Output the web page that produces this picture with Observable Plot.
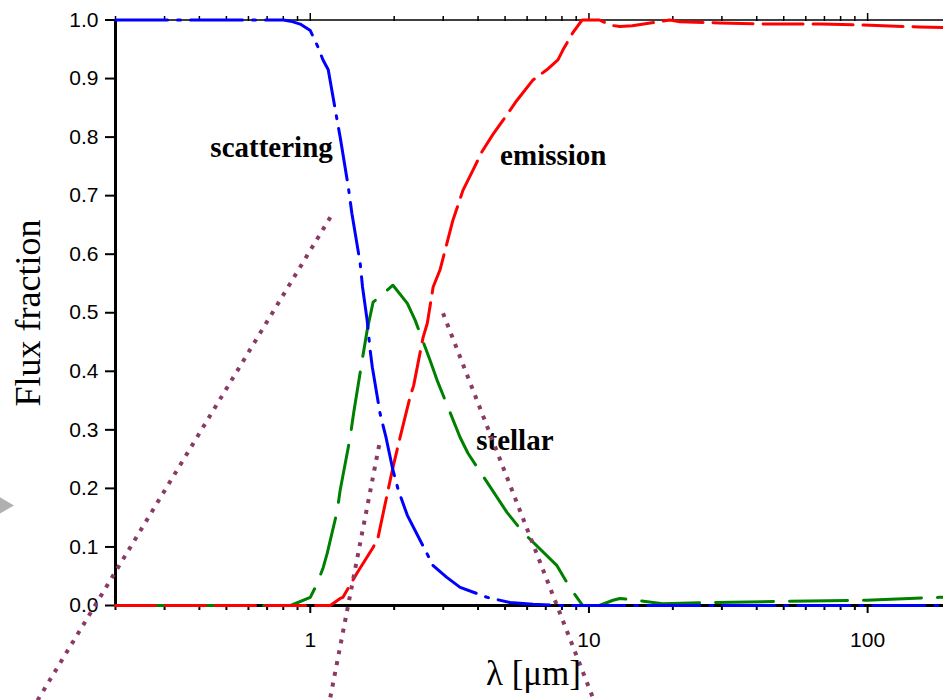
<!DOCTYPE html>
<html>
<head>
<meta charset="utf-8">
<script src="https://cdn.jsdelivr.net/npm/d3@7"></script>
<script src="https://cdn.jsdelivr.net/npm/@observablehq/plot@0.6"></script>
<style>
  html, body { margin: 0; padding: 0; background: white; overflow: hidden; }
</style>
</head>
<body>
<div id="chart"></div>
<script>
// ---- data ----
const scatX = [0.2, 0.5, 0.8, 0.85, 0.92, 1.0, 1.07, 1.11, 1.16, 1.23, 1.28, 1.37, 1.41, 1.51, 1.54, 1.60, 1.64, 1.67, 1.78, 1.87, 1.98, 2.07, 2.23, 2.76, 3.09, 3.45, 4.31, 5.21, 6.3, 7.9, 20, 200];
const scatY = [1, 1, 1, 0.998, 0.993, 0.982, 0.952, 0.932, 0.915, 0.846, 0.80, 0.714, 0.67, 0.585, 0.544, 0.487, 0.436, 0.407, 0.328, 0.287, 0.231, 0.197, 0.154, 0.068, 0.048, 0.031, 0.014, 0.005, 0.002, 0, 0, 0];

const emisX = [0.2, 1.18, 1.28, 1.31, 1.47, 1.68, 1.75, 1.89, 1.98, 2.10, 2.28, 2.35, 2.54, 2.63, 2.76, 2.92, 3.25, 3.53, 3.84, 4.13, 4.53, 4.92, 5.52, 6.28, 7.06, 7.74, 8.07, 8.77, 9.45, 10.9, 12.0, 12.9, 14.3, 19.5, 21.2, 29.4, 44.5, 67.4, 102, 153, 200];
const emisY = [0, 0, 0.012, 0.014, 0.055, 0.099, 0.116, 0.191, 0.236, 0.287, 0.356, 0.376, 0.458, 0.482, 0.544, 0.573, 0.658, 0.709, 0.744, 0.775, 0.805, 0.829, 0.863, 0.897, 0.915, 0.932, 0.949, 0.979, 1.0, 1.0, 0.991, 0.989, 0.99, 1.0, 0.997, 0.995, 0.993, 0.993, 0.991, 0.988, 0.987];

const stelX = [0.2, 0.85, 1.0, 1.06, 1.113, 1.15, 1.25, 1.28, 1.39, 1.43, 1.55, 1.60, 1.68, 1.98, 2.23, 2.38, 2.69, 2.85, 3.45, 3.68, 5.08, 5.8, 7.68, 8.53, 9.5, 10.9, 12.2, 12.9, 14.8, 18.4, 27.7, 51, 99, 181, 200];
const stelY = [0, 0, 0.014, 0.038, 0.065, 0.089, 0.162, 0.197, 0.287, 0.328, 0.431, 0.470, 0.518, 0.547, 0.516, 0.487, 0.419, 0.385, 0.287, 0.260, 0.159, 0.125, 0.068, 0.031, 0, 0, 0.009, 0.012, 0.009, 0.003, 0.005, 0.007, 0.009, 0.014, 0.015];

// dotted guide lines (end points in data units)
const guideId = ["a", "a", "b", "b", "c", "c"];
const guideX  = [0.105, 1.18, 1.18, 1.78, 2.995, 10.36];
const guideY  = [-0.162, 0.663, -0.157, 0.282, 0.499, -0.159];

// annotation labels
const labelText = ["scattering", "emission", "stellar"];
const labelX = [0.438, 4.80, 3.94];
const labelY = [0.766, 0.752, 0.265];

// ticks
const yTicks = [0, 0.1, 0.2, 0.3, 0.4, 0.5, 0.6, 0.7, 0.8, 0.9, 1.0];
const yTickLabels = ["0.0", "0.1", "0.2", "0.3", "0.4", "0.5", "0.6", "0.7", "0.8", "0.9", "1.0"];
const xMajor = [1, 10, 100];
const xMajorLabels = ["1", "10", "100"];
const xMinor = [0.2, 0.3, 0.4, 0.5, 0.6, 0.7, 0.8, 0.9, 2, 3, 4, 5, 6, 7, 8, 9, 20, 30, 40, 50, 60, 70, 80, 90];

const yTitle = "Flux fraction";
const xTitle = "λ [μm]";

// ---- tables ----
const scat = scatX.map((x, i) => ({x, y: scatY[i]}));
const emis = emisX.map((x, i) => ({x, y: emisY[i]}));
const stel = stelX.map((x, i) => ({x, y: stelY[i]}));
const guides = guideX.map((x, i) => ({id: guideId[i], x, y: guideY[i]}));
const labels = labelText.map((t, i) => ({text: t, x: labelX[i], y: labelY[i]}));
const yLab = yTicks.map((v, i) => ({v, t: yTickLabels[i]}));
const xLab = xMajor.map((v, i) => ({v, t: xMajorLabels[i]}));
const arrow = [{x: 0.077, y: 0.171}];

const serif = "'Liberation Serif', 'Times New Roman', serif";
const sans = "'Liberation Sans', Arial, sans-serif";
const purple = "#8b3a66";

const chart = Plot.plot({
  width: 943,
  height: 700,
  marginLeft: 115,
  marginRight: 0,
  marginTop: 20,
  marginBottom: 95,
  style: {fontFamily: sans, fontSize: "21px", background: "white", color: "black", overflow: "visible"},
  x: {type: "log", domain: [0.2, 200], range: [115, 951]},
  y: {domain: [0, 1], range: [605, 19.5]},
  marks: [
    // frame lines
    Plot.ruleY([1], {stroke: "black", strokeWidth: 1.5}),
    Plot.ruleY([0], {stroke: "black", strokeWidth: 3}),
    Plot.ruleX([0.2], {stroke: "black", strokeWidth: 3}),
    // axes (ticks)
    Plot.axisY({ticks: yTicks, tickFormat: () => "", tickSize: 10, strokeWidth: 2, label: null}),
    Plot.axisX({ticks: xMajor, tickFormat: () => "", tickSize: 8, strokeWidth: 2, label: null}),
    Plot.axisX({ticks: xMinor, tickFormat: () => "", tickSize: 5, strokeWidth: 2, label: null}),
    Plot.axisX({anchor: "top", ticks: xMajor, tickFormat: () => "", tickSize: 8, strokeWidth: 1.5, label: null}),
    Plot.axisX({anchor: "top", ticks: xMinor, tickFormat: () => "", tickSize: 5, strokeWidth: 1.5, label: null}),
    // tick labels
    Plot.text(yLab, {y: "v", text: "t", frameAnchor: "left", textAnchor: "end", lineAnchor: "middle", dx: -17, fontFamily: sans, fontSize: 21, fill: "black"}),
    Plot.text(xLab, {x: "v", text: "t", frameAnchor: "bottom", textAnchor: "middle", lineAnchor: "top", dy: 27, fontFamily: sans, fontSize: 21, fill: "black"}),
    // curves
    Plot.line(stel, {x: "x", y: "y", stroke: "#008000", strokeWidth: 3, strokeDasharray: "58,16"}),
    Plot.line(emis, {x: "x", y: "y", stroke: "#ff0000", strokeWidth: 3, strokeDasharray: "40,10"}),
    Plot.line(scat, {x: "x", y: "y", stroke: "#0000ff", strokeWidth: 3, strokeDasharray: "52,10,3,10"}),
    // labels
    Plot.text(labels, {x: "x", y: "y", text: "text", textAnchor: "start", lineAnchor: "bottom", fontFamily: serif, fontWeight: "bold", fontSize: 29, fill: "black"}),
    // dotted guides
    Plot.line(guides, {x: "x", y: "y", z: "id", stroke: purple, strokeWidth: 4, strokeDasharray: "4,7", strokeLinecap: "butt"}),
    // grey arrow remnant
    Plot.dot(arrow, {x: "x", y: "y", symbol: "triangle", r: 9, rotate: 90, fill: "#b0b0b0", stroke: "none"}),
    // axis titles
    Plot.text([yTitle], {frameAnchor: "left", textAnchor: "middle", dx: -76, rotate: -90, lineAnchor: "bottom", fontFamily: serif, fontSize: 36, fill: "black"}),
    Plot.text([xTitle], {frameAnchor: "bottom", textAnchor: "middle", dx: 4, dy: 79, lineAnchor: "bottom", fontFamily: serif, fontSize: 35, fill: "black"})
  ]
});
document.getElementById("chart").appendChild(chart);
</script>
</body>
</html>
